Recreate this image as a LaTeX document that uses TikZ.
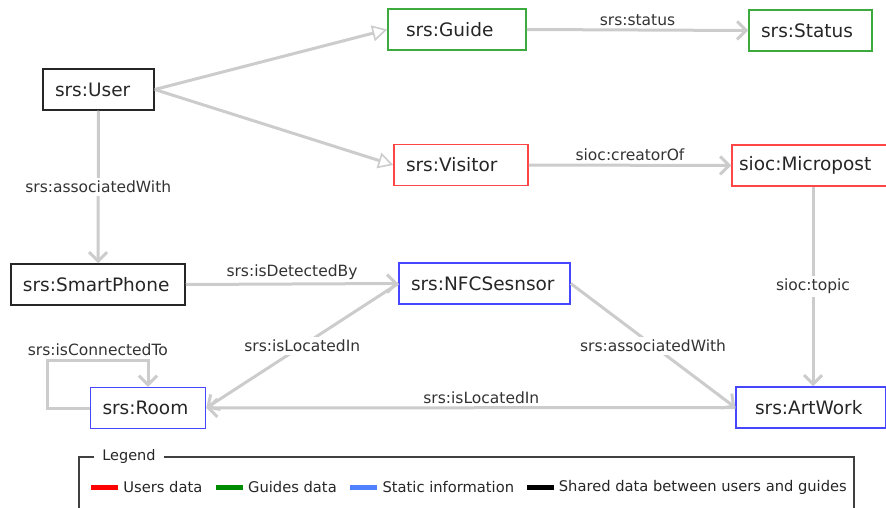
\documentclass[tikz,border=0pt]{standalone}
\usepackage{fontspec}
\setmainfont{DejaVu Sans}
\usetikzlibrary{arrows.meta, positioning}

\definecolor{relgray}{RGB}{204,204,204}
\definecolor{guidegreen}{RGB}{60,170,60}
\definecolor{userred}{RGB}{255,70,70}
\definecolor{staticblue}{RGB}{70,70,255}
\definecolor{legred}{RGB}{255,0,0}
\definecolor{leggreen}{RGB}{0,140,0}
\definecolor{legblue}{RGB}{80,130,255}

\tikzset{
  box/.style={draw, line width=1.5pt, minimum height=41pt, inner xsep=12pt, inner ysep=0pt,
    align=left, text=black!85, font=\fontsize{18.5}{22}\selectfont},
  shared/.style={box, draw=black!85},
  guides/.style={box, draw=guidegreen},
  users/.style={box, draw=userred},
  static/.style={box, draw=staticblue},
  rel/.style={draw=relgray, line width=3pt, -{Straight Barb[length=9pt,width=18pt]}},
  sub/.style={draw=relgray, line width=3pt, -{Triangle[fill=white,length=15pt,width=16pt,line width=1.6pt]}},
  lbl/.style={font=\fontsize{15.5}{18}\selectfont, text=black!80, fill=white, inner sep=3pt},
  bar/.style={minimum width=27pt, minimum height=5pt, inner sep=0pt},
  legtext/.style={font=\fontsize{14.7}{17}\selectfont, text=black!85, inner sep=0pt, right=5pt of #1},
}

\begin{document}
\begin{tikzpicture}[x=1pt, y=-1pt]
    \useasboundingbox (0,0) rectangle (886,508);

    % classes
    \node[shared, text width=87pt] (user) at (98.5,89.5) {srs:User};
    \node[guides, text width=102pt, inner xsep=18pt] (guide) at (457,29.5) {srs:Guide};
    \node[guides, text width=99pt] (status) at (810.5,30.5) {srs:Status};
    \node[users, text width=110pt] (visitor) at (461,165) {srs:Visitor};
    \node[users, text width=148pt, inner xsep=7pt] (micropost) at (813,165.5) {sioc:Micropost};
    \node[shared, text width=150pt] (phone) at (98,284.5) {srs:SmartPhone};
    \node[static, text width=147pt] (nfc) at (484.5,283.5) {srs:NFCSesnsor};
    \node[static, text width=91pt] (room) at (148,408) {srs:Room};
    \node[static, text width=112pt, inner xsep=19pt] (artwork) at (811,407.5) {srs:ArtWork};

    % relations
    \draw[sub] (user.east) -- (guide.west);
    \draw[sub] (user.east) -- (visitor.west);
    \draw[rel] (user.south) -- (phone.north) node[lbl, midway] {srs:associatedWith};
    \draw[rel] (guide.east) -- (status.west) node[lbl, midway, above, fill=none] {srs:status};
    \draw[rel] (visitor.east) -- (micropost.west) node[lbl, midway, above, fill=none] {sioc:creatorOf};
    \draw[rel] (micropost.south) -- (micropost.south |- artwork.north) node[lbl, midway] {sioc:topic};
    \draw[rel] (phone.east) -- (nfc.west) node[lbl, midway, above, fill=none] {srs:isDetectedBy};
    \draw[rel] (nfc.west) -- (room.east) node[lbl, midway] {srs:isLocatedIn};
    \draw[rel] (nfc.east) -- (artwork.west) node[lbl, midway] {srs:associatedWith};
    \draw[rel] (artwork.west) -- (room.east) node[lbl, pos=0.48, above, fill=none] {srs:isLocatedIn};
    \draw[rel] (room.west) -- ++(-42,0) -- ++(0,-48) -| (room.north)
        node[lbl, pos=0.25, above, fill=none] {srs:isConnectedTo};

    % legend
    \draw[black!75, line width=1.3pt] (79,510) -- (79,457) -- (854,457) -- (854,510);
    \node[fill=white, inner xsep=8pt, inner ysep=1pt, text=black!85, font=\fontsize{14.5}{17}\selectfont] (legend) at (129,456) {Legend};
    \node[bar, fill=legred] (kusers) at (104.5,487) {};
    \node[legtext=kusers] (tusers) {Users data};
    \node[bar, fill=leggreen, right=13pt of tusers] (kguides) {};
    \node[legtext=kguides] (tguides) {Guides data};
    \node[bar, fill=legblue, right=13pt of tguides] (kstatic) {};
    \node[legtext=kstatic] (tstatic) {Static information};
    \node[bar, fill=black, right=12pt of tstatic] (kshared) {};
    \node[legtext=kshared] (tshared) {Shared data between users and guides};
\end{tikzpicture}
\end{document}
